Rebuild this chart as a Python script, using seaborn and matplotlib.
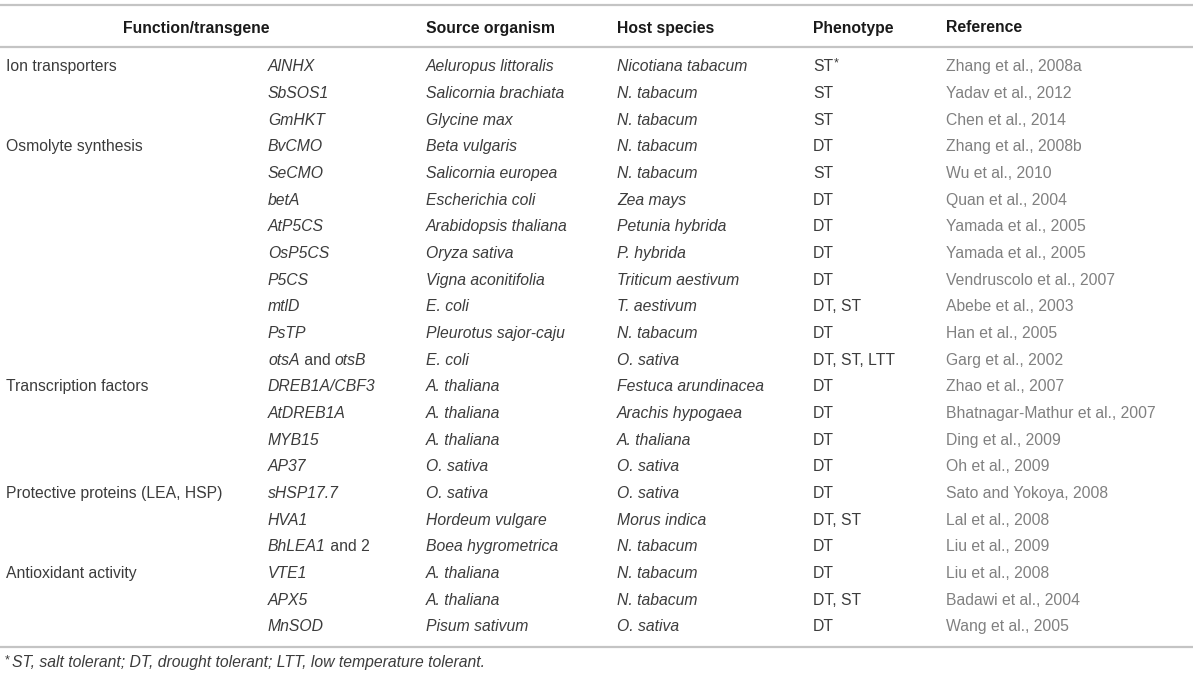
import matplotlib
matplotlib.use("Agg")
import matplotlib.pyplot as plt
import seaborn as sns

sns.set_theme(style="white")
plt.rcParams['font.family'] = ['Liberation Sans', 'DejaVu Sans']

# ---- table data ----
headers = ["Function/transgene", "Source organism", "Host species", "Phenotype", "Reference"]
functions = ["Ion transporters", "", "", "Osmolyte synthesis", "", "", "", "", "", "", "", "",
             "Transcription factors", "", "", "", "Protective proteins (LEA, HSP)", "", "",
             "Antioxidant activity", "", ""]
transgenes = ["AlNHX", "SbSOS1", "GmHKT", "BvCMO", "SeCMO", "betA", "AtP5CS", "OsP5CS", "P5CS",
              "mtlD", "PsTP", "otsA| and |otsB", "DREB1A/CBF3", "AtDREB1A", "MYB15", "AP37",
              "sHSP17.7", "HVA1", "BhLEA1| and 2", "VTE1", "APX5", "MnSOD"]
sources = ["Aeluropus littoralis", "Salicornia brachiata", "Glycine max", "Beta vulgaris",
           "Salicornia europea", "Escherichia coli", "Arabidopsis thaliana", "Oryza sativa",
           "Vigna aconitifolia", "E. coli", "Pleurotus sajor-caju", "E. coli", "A. thaliana",
           "A. thaliana", "A. thaliana", "O. sativa", "O. sativa", "Hordeum vulgare",
           "Boea hygrometrica", "A. thaliana", "A. thaliana", "Pisum sativum"]
hosts = ["Nicotiana tabacum", "N. tabacum", "N. tabacum", "N. tabacum", "N. tabacum", "Zea mays",
         "Petunia hybrida", "P. hybrida", "Triticum aestivum", "T. aestivum", "N. tabacum",
         "O. sativa", "Festuca arundinacea", "Arachis hypogaea", "A. thaliana", "O. sativa",
         "O. sativa", "Morus indica", "N. tabacum", "N. tabacum", "N. tabacum", "O. sativa"]
phenotypes = ["ST*", "ST", "ST", "DT", "ST", "DT", "DT", "DT", "DT", "DT, ST", "DT", "DT, ST, LTT",
              "DT", "DT", "DT", "DT", "DT", "DT, ST", "DT", "DT", "DT, ST", "DT"]
references = ["Zhang et al., 2008a", "Yadav et al., 2012", "Chen et al., 2014", "Zhang et al., 2008b",
              "Wu et al., 2010", "Quan et al., 2004", "Yamada et al., 2005", "Yamada et al., 2005",
              "Vendruscolo et al., 2007", "Abebe et al., 2003", "Han et al., 2005", "Garg et al., 2002",
              "Zhao et al., 2007", "Bhatnagar-Mathur et al., 2007", "Ding et al., 2009", "Oh et al., 2009",
              "Sato and Yokoya, 2008", "Lal et al., 2008", "Liu et al., 2009", "Liu et al., 2008",
              "Badawi et al., 2004", "Wang et al., 2005"]
footnote = "ST, salt tolerant; DT, drought tolerant; LTT, low temperature tolerant."

# ---- layout ----
W, H = 1200, 678
fig = plt.figure(figsize=(W / 100, H / 100), dpi=100)
ax = fig.add_axes([0, 0, 1, 1])
ax.set_xlim(0, W)
ax.set_ylim(H, 0)
ax.axis("off")

FS = 11.3
TXT = "#3c3c3c"
REF = "#808080"
HDR = "#1a1a1a"
LINE = "#c4c4c4"

x_func, x_gene, x_src, x_host, x_ph, x_ref = 6, 268, 426, 617, 813, 946
y_top, y_hdr, y_hline = 5, 28, 46.5
y0, dy = 66.7, 26.67
y_bot, y_foot = 646.5, 662

for yl in (y_top, y_hline, y_bot):
    ax.plot([0, 1193], [yl, yl], color=LINE, lw=1.6, solid_capstyle="butt")

# header
ax.text(196, y_hdr, headers[0], fontsize=FS, fontweight="bold", color=HDR, ha="center", va="center")
for xh, h in zip([x_src, x_host, x_ph, x_ref], headers[1:]):
    ax.text(xh, y_hdr, h, fontsize=FS, fontweight="bold", color=HDR, ha="left", va="center")

fig.canvas.draw()
renderer = fig.canvas.get_renderer()


def draw_mixed(x, y, spec, color):
    parts = spec.split("|")
    cur = x
    for k, p in enumerate(parts):
        style = "italic" if k % 2 == 0 else "normal"
        t = ax.text(cur, y, p, fontsize=FS, style=style, color=color, ha="left", va="center")
        bb = t.get_window_extent(renderer=renderer)
        cur += bb.width * (W / fig.bbox.width)


for i in range(len(transgenes)):
    y = y0 + i * dy
    if functions[i]:
        ax.text(x_func, y, functions[i], fontsize=FS, color=TXT, ha="left", va="center")
    draw_mixed(x_gene, y, transgenes[i], TXT)
    ax.text(x_src, y, sources[i], fontsize=FS, style="italic", color=TXT, ha="left", va="center")
    ax.text(x_host, y, hosts[i], fontsize=FS, style="italic", color=TXT, ha="left", va="center")
    ph = phenotypes[i]
    if ph.endswith("*"):
        t = ax.text(x_ph, y, ph[:-1], fontsize=FS, color=TXT, ha="left", va="center")
        bb = t.get_window_extent(renderer=renderer)
        ax.text(x_ph + bb.width + 0.5, y - 3, "*", fontsize=FS * 0.8, color=TXT, ha="left", va="center")
    else:
        ax.text(x_ph, y, ph, fontsize=FS, color=TXT, ha="left", va="center")
    ax.text(x_ref, y, references[i], fontsize=FS, color=REF, ha="left", va="center")

# footnote
ax.text(5, y_foot - 2, "*", fontsize=FS * 0.8, color=TXT, ha="left", va="center")
ax.text(12, y_foot, footnote, fontsize=FS, style="italic", color=TXT, ha="left", va="center")

fig.savefig("out.png", dpi=100)
